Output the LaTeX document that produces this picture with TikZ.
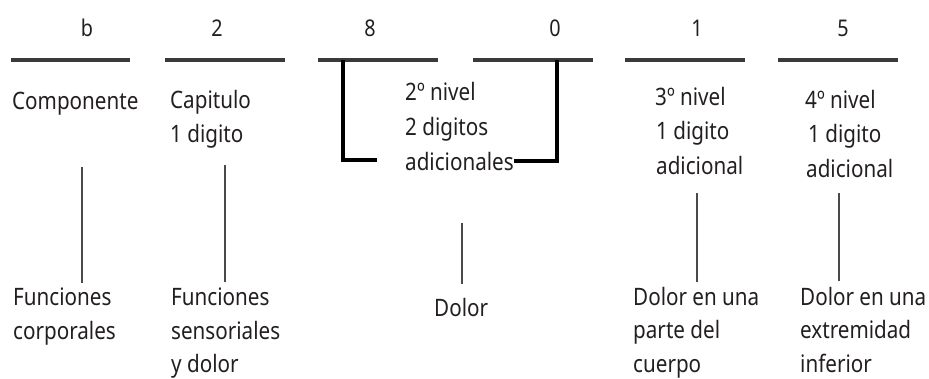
\documentclass[tikz,border=0pt]{standalone}
\usepackage{fontspec}
\setmainfont{Noto Sans}[FakeStretch=0.86]
\definecolor{ink}{HTML}{231F20}
\definecolor{rulegray}{HTML}{3A3A3A}
\definecolor{stemgray}{HTML}{4A4A4A}
\begin{document}
\begin{tikzpicture}[x=1pt,y=-1pt,
  txt/.style={inner sep=0pt, anchor=base west, font=\fontsize{24}{34}\selectfont, text=ink},
  dig/.style={inner sep=0pt, anchor=base, font=\fontsize{23}{28}\selectfont, text=ink},
  rule/.style={line width=3.5pt, draw=rulegray},
  stem/.style={line width=2.5pt, draw=stemgray},
  brack/.style={line width=3.5pt, draw=black}]
\useasboundingbox (0,0) rectangle (929,378);
% digits
\node[dig] (db) at (87,36) {b};
\node[dig] (d2) at (217,36) {2};
\node[dig] (d8) at (370,36) {8};
\node[dig] (d0) at (555,36) {0};
\node[dig] (d1) at (697,36) {1};
\node[dig] (d5) at (843,36) {5};
% rules
\coordinate (r1a) at (11,60);  \coordinate (r1b) at (130,60);
\coordinate (r2a) at (165,60); \coordinate (r2b) at (285,60);
\coordinate (r3a) at (318,60); \coordinate (r3b) at (438,60);
\coordinate (r4a) at (473,60); \coordinate (r4b) at (593,60);
\coordinate (r5a) at (625,60); \coordinate (r5b) at (745,60);
\coordinate (r6a) at (778,60); \coordinate (r6b) at (898,60);
\draw[rule] (r1a) -- (r1b);
\draw[rule] (r2a) -- (r2b);
\draw[rule] (r3a) -- (r3b);
\draw[rule] (r4a) -- (r4b);
\draw[rule] (r5a) -- (r5b);
\draw[rule] (r6a) -- (r6b);
% upper texts
\node[txt] (comp) at (12,109) {Componente};
\node[txt] (cap1) at (170,108) {Capitulo};
\node[txt] (cap2) at (170,142) {1 digito};
\node[txt] (n2a) at (405,100) {2º nivel};
\node[txt] (n2b) at (405,135) {2 digitos};
\node[txt] (n2c) at (405,170) {adicionales};
\node[txt] (n3a) at (655,105) {3º nivel};
\node[txt] (n3b) at (656,139) {1 digito};
\node[txt] (n3c) at (656,174) {adicional};
\node[txt] (n4a) at (805,108) {4º nivel};
\node[txt] (n4b) at (808,142) {1 digito};
\node[txt] (n4c) at (806,177) {adicional};
% brackets
\coordinate (bl1) at (343,60); \coordinate (bl2) at (343,160); \coordinate (bl3) at (377,160);
\coordinate (br1) at (557,60); \coordinate (br2) at (557,161);
\draw[brack] (bl1) -- (bl2) -- (bl3);
\draw[brack] (br1) -- (br2) -- (n2c.east |- br2);
% lower texts
\node[txt] (f1a) at (13,305) {Funciones};
\node[txt] (f1b) at (13,339) {corporales};
\node[txt] (f2a) at (171,305) {Funciones};
\node[txt] (f2b) at (171,339) {sensoriales};
\node[txt] (f2c) at (171,372) {y dolor};
\node[txt] (dol) at (434,316) {Dolor};
\node[txt] (p1a) at (633,305) {Dolor en una};
\node[txt] (p1b) at (633,338) {parte del};
\node[txt] (p1c) at (633,372) {cuerpo};
\node[txt] (e1a) at (800,305) {Dolor en una};
\node[txt] (e1b) at (800,338) {extremidad};
\node[txt] (e1c) at (800,372) {inferior};
% stems
\coordinate (s1a) at (82,167);  \coordinate (s1b) at (82,283);
\coordinate (s2a) at (225,165); \coordinate (s2b) at (225,282);
\coordinate (s3a) at (462,223); \coordinate (s3b) at (462,284);
\coordinate (s5a) at (697,193); \coordinate (s5b) at (697,282);
\coordinate (s6a) at (839,193); \coordinate (s6b) at (839,281);
\draw[stem] (s1a) -- (s1b);
\draw[stem] (s2a) -- (s2b);
\draw[stem] (s3a) -- (s3b);
\draw[stem] (s5a) -- (s5b);
\draw[stem] (s6a) -- (s6b);
\end{tikzpicture}
\end{document}
